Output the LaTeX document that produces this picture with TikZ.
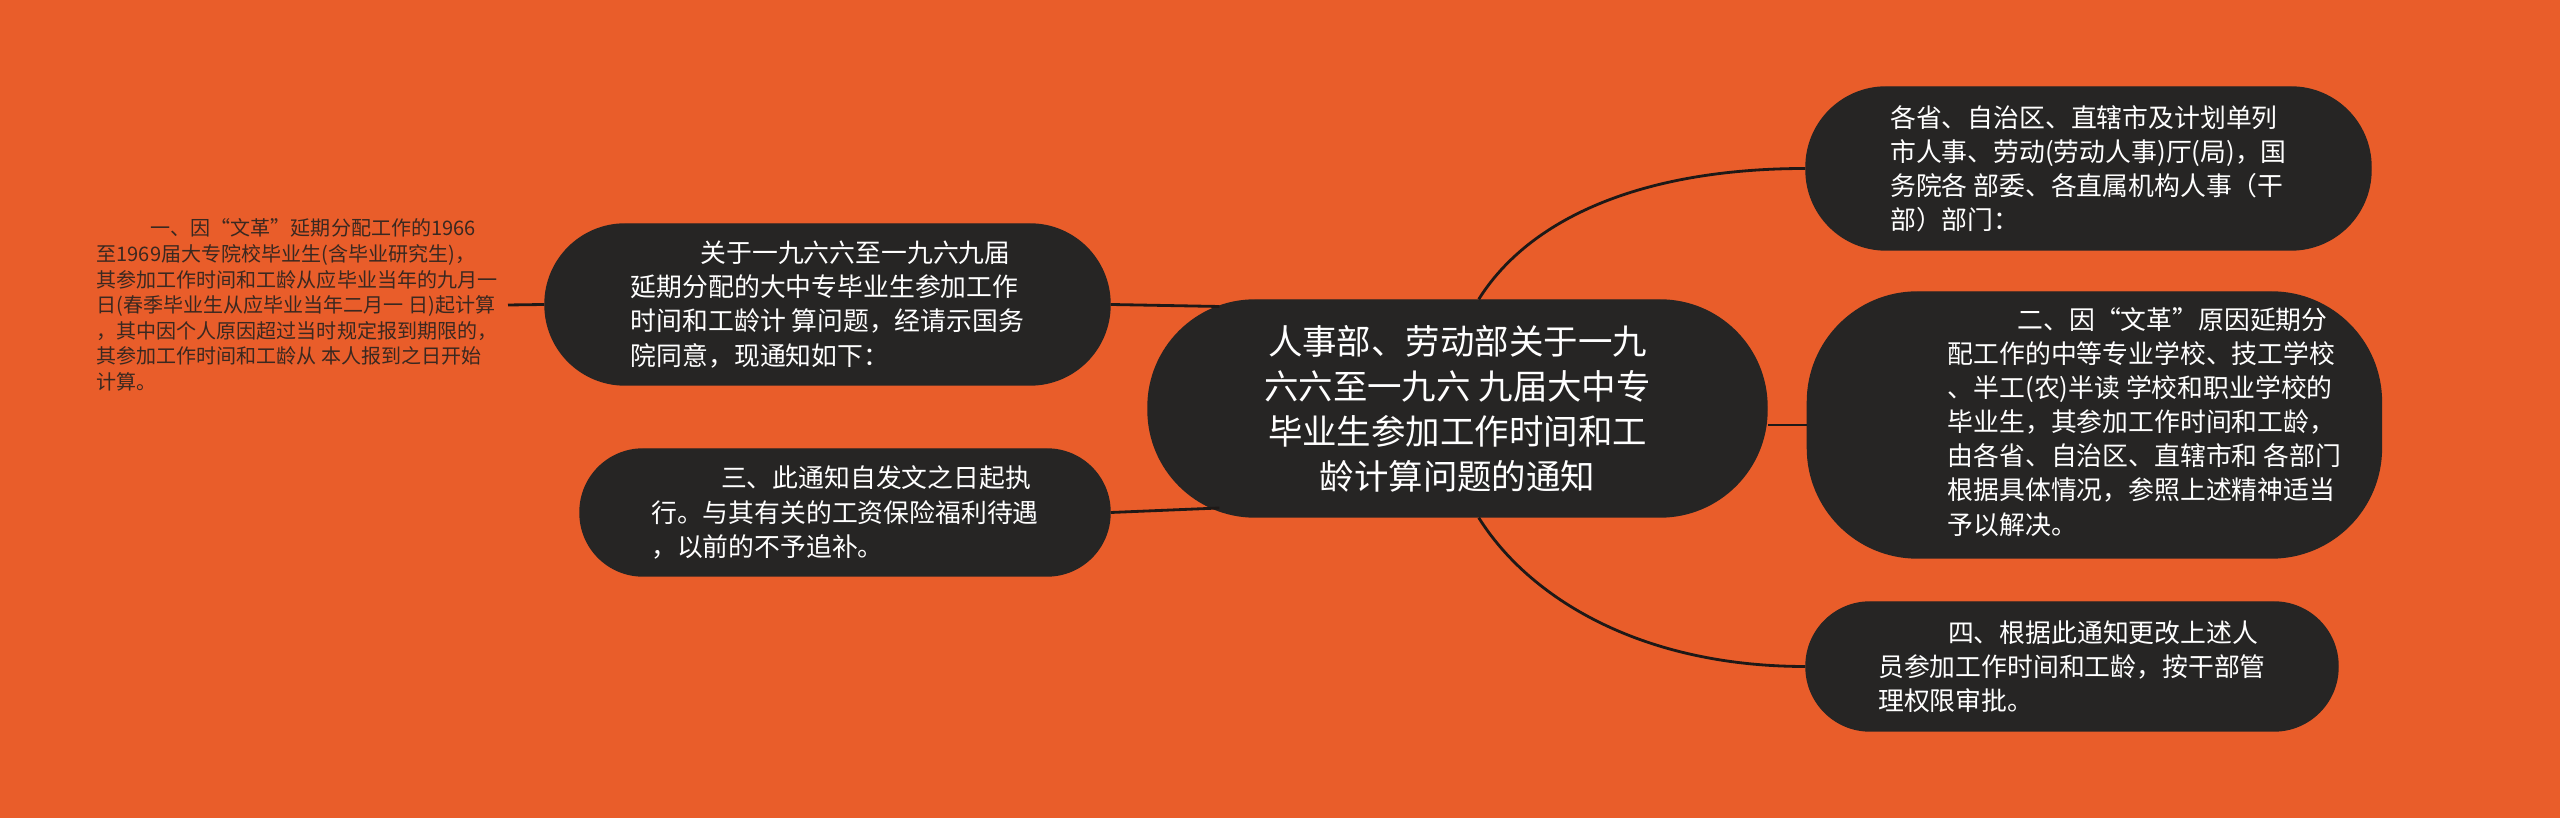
\documentclass[tikz,border=0pt]{standalone}
\usepackage{fontspec}
\setmainfont{Noto Sans CJK SC}
\usepackage{tikz}
\usetikzlibrary{positioning,calc}

\definecolor{bgorange}{HTML}{E95D2A}
\definecolor{bubblefill}{HTML}{262524}
\definecolor{linkcol}{HTML}{1E1917}
\definecolor{plaintext}{HTML}{3A2820}

\tikzset{
  bubble/.style={fill=bubblefill, draw=bubblefill, text=white, align=left, inner sep=0pt,
    font=\fontsize{7.35pt}{9.7pt}\selectfont},
  topic/.style={bubble, align=center, font=\fontsize{9.8pt}{12.8pt}\selectfont},
  link/.style={draw=linkcol, line width=0.8pt},
}

\begin{document}
\begin{tikzpicture}
    \fill[bgorange] (0,0) rectangle (25.6,-8.18);
    \useasboundingbox (0,0) rectangle (25.6,-8.18);

    \node[topic, minimum width=6.19cm, minimum height=2.17cm, rounded corners=1.07cm] (main) at (14.575,-4.085)
      {人事部、劳动部关于一九\\六六至一九六 九届大中专\\毕业生参加工作时间和工\\龄计算问题的通知};

    \node[bubble, minimum width=5.65cm, minimum height=1.61cm, rounded corners=0.8cm] (n1) at (8.275,-3.045)
      {\hspace*{2.7em}关于一九六六至一九六九届\\延期分配的大中专毕业生参加工作\\时间和工龄计 算问题，经请示国务\\院同意，现通知如下：};
    \node[bubble, minimum width=5.30cm, minimum height=1.27cm, rounded corners=0.63cm] (n3) at (8.45,-5.125)
      {\hspace*{2.7em}三、此通知自发文之日起执\\行。与其有关的工资保险福利待遇\\，以前的不予追补。};

    \node[anchor=east, align=left, inner sep=0.1cm, text=plaintext, font=\fontsize{5.7pt}{7.3pt}\selectfont] (intro) at (5.08,-3.05)
      {\hspace*{2.7em}一、因“文革”延期分配工作的1966\\至1969届大专院校毕业生(含毕业研究生)，\\其参加工作时间和工龄从应毕业当年的九月一\\日(春季毕业生从应毕业当年二月一 日)起计算\\，其中因个人原因超过当时规定报到期限的，\\其参加工作时间和工龄从 本人报到之日开始\\计算。};

    \node[bubble, minimum width=5.65cm, minimum height=1.63cm, rounded corners=0.8cm] (r1) at (20.885,-1.685)
      {各省、自治区、直辖市及计划单列\\市人事、劳动(劳动人事)厅(局)，国\\务院各 部委、各直属机构人事（干\\部）部门：};
    \node[bubble, minimum width=5.74cm, minimum height=2.66cm, rounded corners=1.1cm, right=0.39cm of main, yshift=-1.65mm] (r2)
      {\begin{tabular}{@{\hspace{1.0cm}}l@{}}
        \hspace*{2.7em}二、因“文革”原因延期分\\配工作的中等专业学校、技工学校\\、半工(农)半读 学校和职业学校的\\毕业生，其参加工作时间和工龄，\\由各省、自治区、直辖市和 各部门\\根据具体情况，参照上述精神适当\\予以解决。
      \end{tabular}};
    \node[bubble, minimum width=5.32cm, minimum height=1.29cm, rounded corners=0.64cm] (r4) at (20.72,-6.665)
      {\hspace*{2.7em}四、根据此通知更改上述人\\员参加工作时间和工龄，按干部管\\理权限审批。};

    \draw[link] (intro.east) -- (n1.west);
    \draw[link] (n1.east) -- ($(main.west)+(0.72,1.02)$);
    \draw[link] (n3.east) -- ($(main.west)+(0.72,-0.995)$);
    \draw[link] (main.79) .. controls +(0.5,0.8) and +(-1.65,0) .. (r1.west);
    \draw[link] (r2.west) -- (r2.west -| main.east);
    \draw[link] (main.281) .. controls +(0.5,-0.8) and +(-1.65,0) .. (r4.west);
  \end{tikzpicture}
\end{document}
